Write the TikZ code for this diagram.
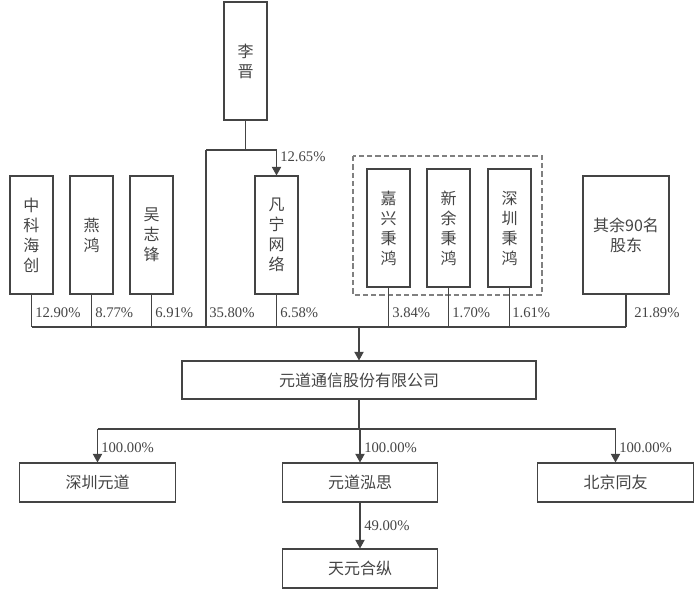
\documentclass[tikz,border=0pt]{standalone}
\usepackage{fontspec}
\setmainfont{Liberation Serif}
\newfontfamily\cjk{Noto Sans CJK SC}
\usepackage{tikz}
\usetikzlibrary{shapes,arrows,arrows.meta}
\definecolor{ink}{HTML}{444444}
\definecolor{dashink}{HTML}{808080}
\tikzstyle{vbox} = [draw=ink, line width=0.8pt, inner sep=0pt, minimum width=32.25pt, minimum height=88.5pt, text=ink, align=center, font=\cjk\fontsize{12}{15}\selectfont]
\tikzstyle{hbox} = [draw=ink, line width=0.8pt, inner sep=0pt, minimum width=116.5pt, minimum height=29.25pt, text=ink, font=\cjk\fontsize{12}{15}\selectfont]
\tikzstyle{pct} = [anchor=west, inner sep=0pt, text=ink, font=\fontsize{11}{13}\selectfont]
\tikzstyle{line} = [draw=ink, line width=0.8pt]
\tikzstyle{arr} = [draw=ink, line width=0.8pt, -{Triangle[length=6.5pt,width=7pt]}]

\begin{document}
\begin{tikzpicture}[x=0.75pt,y=-0.75pt]
	\useasboundingbox (0,0) rectangle (700,594);
	\node[vbox] (lj) at (245.5,61) {李\\晋};
	\node[vbox] (zkhc) at (31.5,235) {中\\科\\海\\创};
	\node[vbox] (yh) at (91.5,235) {燕\\鸿};
	\node[vbox] (wzf) at (151.5,235) {吴\\志\\锋};
	\node[vbox] (fnwl) at (276.5,235) {凡\\宁\\网\\络};
	\node[vbox] (jxbh) at (388.5,228) {嘉\\兴\\秉\\鸿};
	\node[vbox] (xybh) at (448.5,228) {新\\余\\秉\\鸿};
	\node[vbox] (szbh) at (509.5,228) {深\\圳\\秉\\鸿};
	\node[vbox, minimum width=64.5pt] (qy) at (626,235) {其余90名\\股东};
	\draw[dashink, line width=0.8pt, dash pattern=on 4pt off 2.2pt] (353,156) rectangle (542,295);
	\node[hbox, minimum width=265.5pt, minimum height=28.5pt] (yd) at (359,380) {元道通信股份有限公司};
	\node[hbox] (szyd) at (97.5,482.5) {深圳元道};
	\node[hbox] (ydhs) at (360,482.5) {元道泓思};
	\node[hbox] (bjty) at (615.5,482.5) {北京同友};
	\node[hbox] (tyhz) at (360,568.5) {天元合纵};
	\coordinate (lj1) at (245.5,150);
	\coordinate (lj2) at (206,150);
	\coordinate (lj3) at (206,327);
	\coordinate (fn1) at (276.5,150);
	\coordinate (busl) at (31.5,327);
	\coordinate (busr) at (626,327);
	\coordinate (busm) at (359,327);
	\draw[line] (lj.south) -- (lj1);
	\draw[line] (lj2) -- (fn1);
	\draw[line] (lj2) -- (lj3);
	\draw[arr] (fn1) -- (fnwl.north);
	\node[pct] (p1) at (280,157) {12.65\%};
	\draw[line] (busl) -- (busr);
	\foreach \n in {zkhc,yh,wzf,fnwl,jxbh,xybh,szbh,qy}
		\draw[line] (\n.south) -- (\n.south |- busl);
	\node[pct] (p2) at (35,313) {12.90\%};
	\node[pct] (p3) at (95,313) {8.77\%};
	\node[pct] (p4) at (155,313) {6.91\%};
	\node[pct] (p5) at (209,313) {35.80\%};
	\node[pct] (p6) at (280,313) {6.58\%};
	\node[pct] (p7) at (392,313) {3.84\%};
	\node[pct] (p8) at (452,313) {1.70\%};
	\node[pct] (p9) at (512,313) {1.61\%};
	\node[pct] (p10) at (634,313) {21.89\%};
	\draw[arr] (busm) -- (yd.north);
	\coordinate (sb) at (359,429);
	\coordinate (sbl) at (97.5,429);
	\coordinate (sbr) at (615.5,429);
	\draw[line] (yd.south) -- (sb);
	\draw[line] (sbl) -- (sbr);
	\draw[arr] (sbl) -- (szyd.north);
	\draw[arr] (sb -| ydhs.north) -- (ydhs.north);
	\draw[arr] (sbr) -- (bjty.north);
	\node[pct] (p11) at (101,448) {100.00\%};
	\node[pct] (p12) at (364,448) {100.00\%};
	\node[pct] (p13) at (619,448) {100.00\%};
	\draw[arr] (ydhs.south) -- (tyhz.north);
	\node[pct] (p14) at (364,526) {49.00\%};
\end{tikzpicture}
\end{document}
